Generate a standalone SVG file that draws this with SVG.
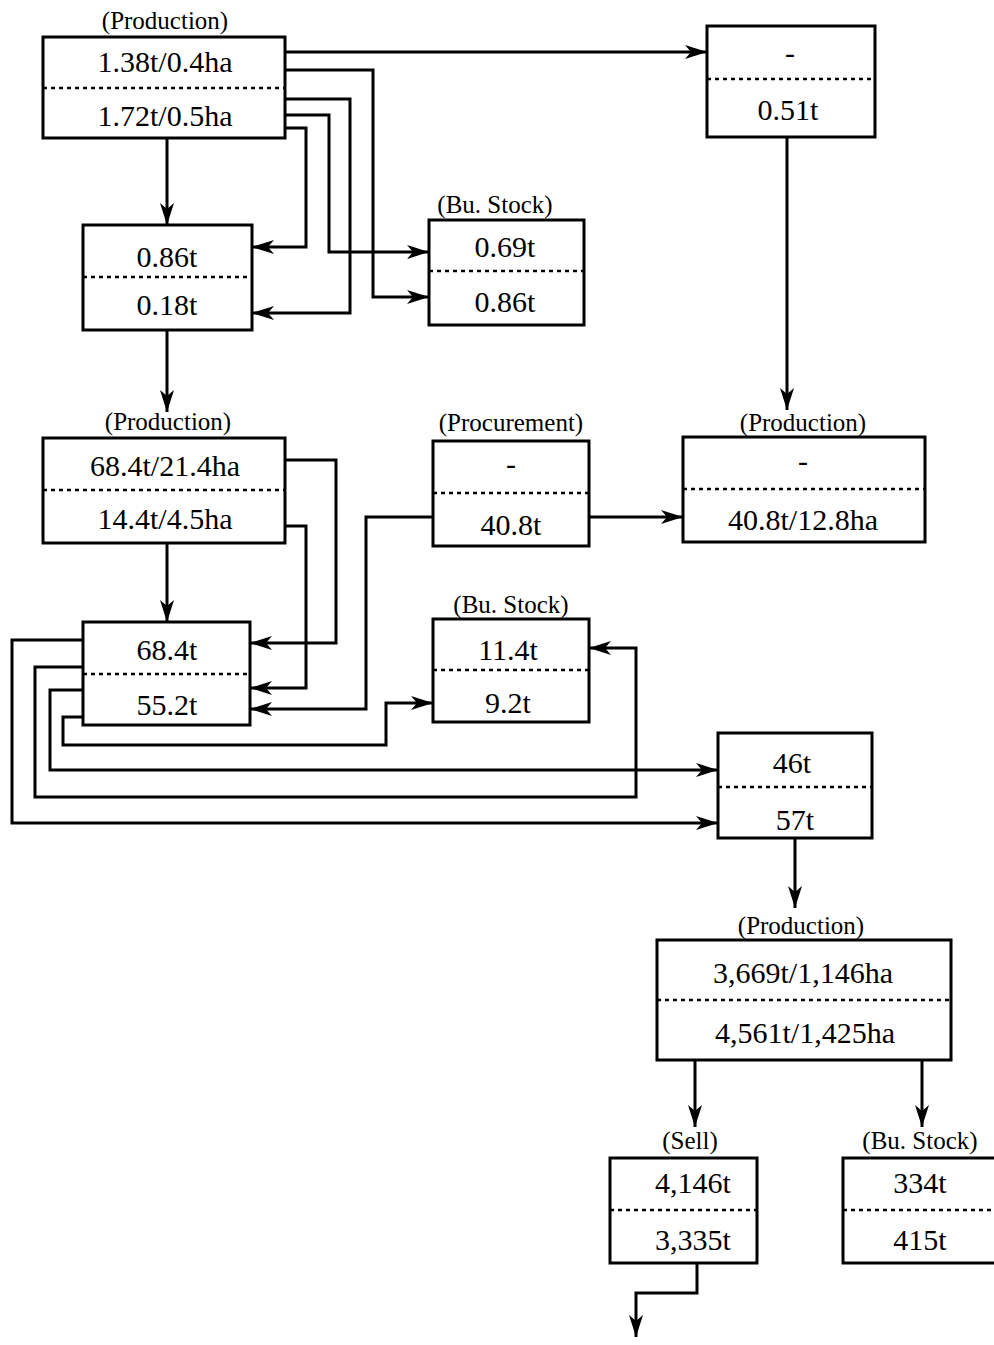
<svg xmlns="http://www.w3.org/2000/svg" width="994" height="1345" viewBox="0 0 994 1345">
<defs>
<style>
.box{fill:#fff;stroke:#000;stroke-width:3}
.div{stroke:#000;stroke-width:2.5;stroke-dasharray:4 4}
.v{font-family:"Liberation Serif","Times New Roman",serif;font-size:30px;text-anchor:middle;fill:#000}
.l{font-family:"Liberation Serif","Times New Roman",serif;font-size:25px;text-anchor:middle;fill:#000}
.c{fill:none;stroke:#000;stroke-width:3;marker-end:url(#ah)}
</style>
<marker id="ah" markerUnits="userSpaceOnUse" markerWidth="24" markerHeight="16" refX="22" refY="7" orient="auto">
<path d="M0,0 L22,7 L0,14 L6,7 z" fill="#000"/>
</marker>
</defs>
<rect width="994" height="1345" fill="#fff"/>

<g id="connectors">
<path class="c" d="M285,52 H707"/>
<path class="c" d="M285,70 H373 V297 H429"/>
<path class="c" d="M285,99 H350 V313 H252"/>
<path class="c" d="M285,115 H329 V252 H429"/>
<path class="c" d="M285,128 H306 V247 H252"/>
<path class="c" d="M167,138 V225"/>
<path class="c" d="M167,330 V412"/>
<path class="c" d="M787,137 V410"/>
<path class="c" d="M589,517 H683"/>
<path class="c" d="M167,543 V622"/>
<path class="c" d="M285,460 H336 V643 H250"/>
<path class="c" d="M285,526 H306 V688 H250"/>
<path class="c" d="M433,517 H366 V709 H250"/>
<path class="c" d="M83,640 H12 V823 H718"/>
<path class="c" d="M83,667 H35 V797 H636 V648 H589"/>
<path class="c" d="M83,690 H50 V770 H718"/>
<path class="c" d="M83,717 H63 V745 H386 V703 H433"/>
<path class="c" d="M795,838 V908"/>
<path class="c" d="M695,1060 V1127"/>
<path class="c" d="M922,1060 V1127"/>
<path class="c" d="M697,1263 V1293 H636 V1337"/>
</g>

<g id="prod1">
<text class="l" x="165" y="29">(Production)</text>
<rect class="box" x="43" y="37" width="242" height="101"/>
<line class="div" x1="43" y1="88" x2="285" y2="88"/>
<text class="v" x="165" y="72">1.38t/0.4ha</text>
<text class="v" x="165" y="126">1.72t/0.5ha</text>
</g>

<g id="stock1">
<rect class="box" x="83" y="225" width="169" height="105"/>
<line class="div" x1="83" y1="277" x2="252" y2="277"/>
<text class="v" x="167" y="267">0.86t</text>
<text class="v" x="167" y="315">0.18t</text>
</g>

<g id="bustock1">
<text class="l" x="495" y="213">(Bu. Stock)</text>
<rect class="box" x="429" y="220" width="155" height="105"/>
<line class="div" x1="429" y1="271" x2="584" y2="271"/>
<text class="v" x="505" y="257">0.69t</text>
<text class="v" x="505" y="312">0.86t</text>
</g>

<g id="topright">
<rect class="box" x="707" y="26" width="168" height="111"/>
<line class="div" x1="707" y1="79" x2="875" y2="79"/>
<text class="v" x="790" y="63">-</text>
<text class="v" x="788" y="120">0.51t</text>
</g>

<g id="prod2">
<text class="l" x="168" y="430">(Production)</text>
<rect class="box" x="43" y="438" width="242" height="105"/>
<line class="div" x1="43" y1="490" x2="285" y2="490"/>
<text class="v" x="165" y="476">68.4t/21.4ha</text>
<text class="v" x="165" y="529">14.4t/4.5ha</text>
</g>

<g id="procurement">
<text class="l" x="511" y="431">(Procurement)</text>
<rect class="box" x="433" y="441" width="156" height="105"/>
<line class="div" x1="433" y1="493" x2="589" y2="493"/>
<text class="v" x="511" y="474">-</text>
<text class="v" x="511" y="535">40.8t</text>
</g>

<g id="prod3">
<text class="l" x="803" y="431">(Production)</text>
<rect class="box" x="683" y="437" width="242" height="105"/>
<line class="div" x1="683" y1="489" x2="925" y2="489"/>
<text class="v" x="803" y="471">-</text>
<text class="v" x="803" y="530">40.8t/12.8ha</text>
</g>

<g id="stock2">
<rect class="box" x="83" y="622" width="167" height="103"/>
<line class="div" x1="83" y1="674" x2="250" y2="674"/>
<text class="v" x="167" y="660">68.4t</text>
<text class="v" x="167" y="715">55.2t</text>
</g>

<g id="bustock2">
<text class="l" x="511" y="613">(Bu. Stock)</text>
<rect class="box" x="433" y="619" width="156" height="103"/>
<line class="div" x1="433" y1="670" x2="589" y2="670"/>
<text class="v" x="508" y="660">11.4t</text>
<text class="v" x="508" y="713">9.2t</text>
</g>

<g id="stock3">
<rect class="box" x="718" y="733" width="154" height="105"/>
<line class="div" x1="718" y1="787" x2="872" y2="787"/>
<text class="v" x="792" y="773">46t</text>
<text class="v" x="795" y="830">57t</text>
</g>

<g id="prod4">
<text class="l" x="801" y="934">(Production)</text>
<rect class="box" x="657" y="940" width="294" height="120"/>
<line class="div" x1="657" y1="1000" x2="951" y2="1000"/>
<text class="v" x="803" y="983">3,669t/1,146ha</text>
<text class="v" x="805" y="1043">4,561t/1,425ha</text>
</g>

<g id="sell">
<text class="l" x="690" y="1149">(Sell)</text>
<rect class="box" x="610" y="1158" width="147" height="105"/>
<line class="div" x1="610" y1="1210" x2="757" y2="1210"/>
<text class="v" x="693" y="1193">4,146t</text>
<text class="v" x="693" y="1250">3,335t</text>
</g>

<g id="bustock3">
<text class="l" x="920" y="1149">(Bu. Stock)</text>
<rect class="box" x="843" y="1158" width="170" height="105"/>
<line class="div" x1="843" y1="1210" x2="1013" y2="1210"/>
<text class="v" x="920" y="1193">334t</text>
<text class="v" x="920" y="1250">415t</text>
</g>
</svg>
